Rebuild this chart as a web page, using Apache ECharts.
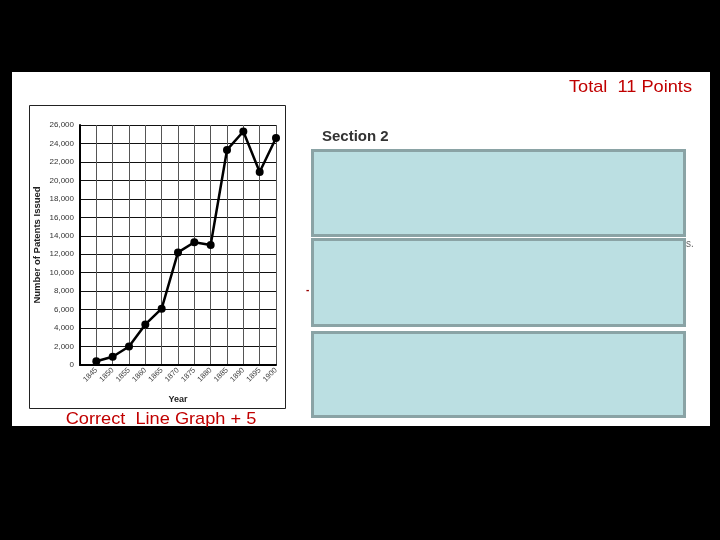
<!DOCTYPE html>
<html>
<head>
<meta charset="utf-8">
<script src="https://cdn.jsdelivr.net/npm/echarts@6/dist/echarts.min.js"></script>
<style>html,body{margin:0;padding:0;background:#000}#c{width:720px;height:540px}</style>
</head>
<body>
<div id="c"></div>
<script>
var years = [1845, 1850, 1855, 1860, 1865, 1870, 1875, 1880, 1885, 1890, 1895, 1900];
var patents = [400, 900, 2000, 4400, 6100, 12200, 13300, 13000, 23300, 25300, 20900, 24600];
var yTicks = [0, 2000, 4000, 6000, 8000, 10000, 12000, 14000, 16000, 18000, 20000, 22000, 24000, 26000];
var xName = 'Year';
var yName = 'Number of Patents Issued';
var titleRight = 'Total  11 Points';
var captionLeft = 'Correct  Line Graph + 5';
var sectionTitle = 'Section 2';

var chart = echarts.init(document.getElementById('c'), null, {renderer: 'canvas'});
var data = years.map(function (y, i) { return [y, patents[i]]; });
var font = 'Liberation Sans, Arial, sans-serif';

chart.setOption({
  backgroundColor: '#000',
  animation: false,
  grid: {left: 80, right: 444, top: 125, bottom: 175, containLabel: false},
  xAxis: {
    type: 'value', min: 1840, max: 1900, interval: 5,
    name: xName, nameLocation: 'middle', nameGap: 30,
    nameTextStyle: {fontFamily: font, fontWeight: 'bold', fontSize: 9, color: '#222'},
    axisLine: {show: true, lineStyle: {color: '#000', width: 2}},
    axisTick: {show: false},
    axisLabel: {rotate: 45, fontSize: 7.5, fontFamily: font, color: '#444', margin: 4,
      formatter: function (v) { return v === 1840 ? '' : String(v); }},
    splitLine: {show: true, lineStyle: {color: '#555', width: 1}}
  },
  yAxis: {
    type: 'value', min: yTicks[0], max: yTicks[yTicks.length - 1], interval: 2000,
    name: yName, nameLocation: 'middle', nameGap: 38,
    nameTextStyle: {fontFamily: font, fontWeight: 'bold', fontSize: 9.5, color: '#222'},
    axisLine: {show: true, lineStyle: {color: '#000', width: 2}},
    axisTick: {show: false},
    axisLabel: {fontSize: 8, fontFamily: font, color: '#333', margin: 6,
      formatter: function (v) { return v.toLocaleString('en-US'); }},
    splitLine: {show: true, lineStyle: {color: '#111', width: 1}}
  },
  series: [{
    type: 'line', data: data,
    lineStyle: {color: '#000', width: 2.5},
    itemStyle: {color: '#000'},
    symbol: 'circle', symbolSize: 8,
    z: 5
  }],
  graphic: [
    {type: 'rect', z: -100, shape: {x: 12, y: 72, width: 698, height: 354}, style: {fill: '#fff'}},
    {type: 'rect', z: -90, shape: {x: 29.5, y: 105.5, width: 256, height: 303}, style: {fill: '#fff', stroke: '#222', lineWidth: 1}},
    {type: 'text', z: 50, x: 692, y: 87, scaleX: 1.07, style: {text: titleRight, fill: '#c00000', font: '17px ' + font, align: 'right', verticalAlign: 'middle'}},
    {type: 'text', z: 50, x: 161, y: 419, scaleX: 1.07, style: {text: captionLeft, fill: '#c00000', font: '17px ' + font, align: 'center', verticalAlign: 'middle'}},
    {type: 'text', z: 50, x: 322, y: 137, style: {text: sectionTitle, fill: '#333', font: 'bold 15px ' + font, align: 'left', verticalAlign: 'middle'}},
    {type: 'text', z: 10, x: 686, y: 244, style: {text: 's.', fill: '#666', font: '10px ' + font, align: 'left', verticalAlign: 'middle'}},
    {type: 'text', z: 10, x: 306, y: 290, style: {text: '-', fill: '#900', font: 'bold 10px ' + font, align: 'left', verticalAlign: 'middle'}},
    {type: 'rect', z: 20, shape: {x: 312.5, y: 150.5, width: 372, height: 85}, style: {fill: '#bbdfe2', stroke: '#8aa3a5', lineWidth: 3}},
    {type: 'rect', z: 20, shape: {x: 312.5, y: 239.5, width: 372, height: 86}, style: {fill: '#bbdfe2', stroke: '#8aa3a5', lineWidth: 3}},
    {type: 'rect', z: 20, shape: {x: 312.5, y: 332.5, width: 372, height: 84}, style: {fill: '#bbdfe2', stroke: '#8aa3a5', lineWidth: 3}}
  ]
});
</script>
</body>
</html>
